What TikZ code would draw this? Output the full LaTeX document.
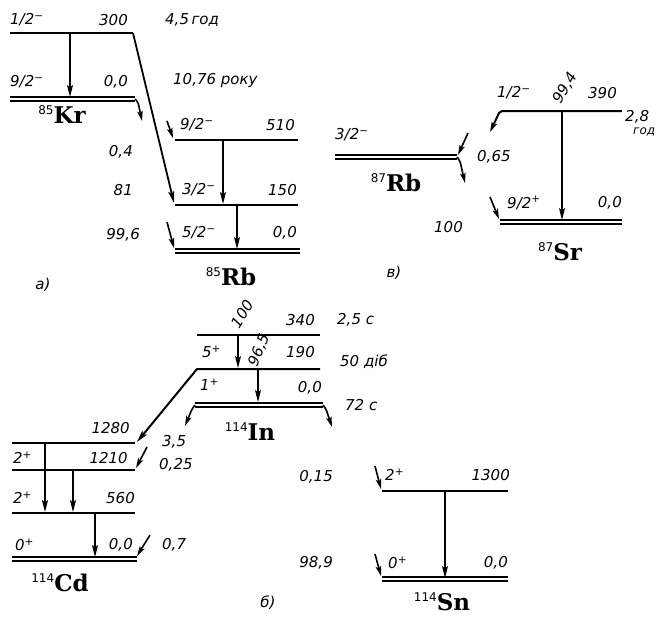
\documentclass[tikz,border=0pt]{standalone}
\usepackage{fontspec}
\setmainfont{DejaVu Sans}
\newfontfamily\elfamily{DejaVu Serif}
\usetikzlibrary{arrows.meta}
\newcommand{\elname}[2]{{\fontsize{12}{12}\selectfont\upshape\raisebox{9pt}{#1}}{\elfamily\bfseries\fontsize{23}{23}\selectfont #2}}
\tikzset{
  lvl/.style={line width=2pt},
  gnd/.style={draw=black,double=white,double distance=2pt,line width=1.8pt},
  gam/.style={line width=1.6pt,-{Stealth[length=12pt,width=6pt,inset=2.5pt]}},
  feed/.style={line width=1.6pt,-{Stealth[length=10pt,width=5.5pt,inset=2pt]},rounded corners=2pt},
  lab/.style={inner sep=0pt,font=\itshape\fontsize{15}{15}\selectfont},
  labw/.style={lab,anchor=west},
  labe/.style={lab,anchor=east},
  small/.style={inner sep=0pt,font=\itshape\fontsize{12}{12}\selectfont},
  elem/.style={inner sep=0pt}
}
\begin{document}
\begin{tikzpicture}[x=1pt,y=-1pt]
\useasboundingbox (0,0) rectangle (668,622);
% ---------------- a) 85Kr -> 85Rb
\coordinate (krTL) at (10,33); \coordinate (krTR) at (133,33);
\coordinate (krGL) at (10,99); \coordinate (krGR) at (135,99);
\coordinate (rbAL) at (175,140); \coordinate (rbAR) at (298,140);
\coordinate (rbBL) at (175,205); \coordinate (rbBR) at (298,205);
\coordinate (rbGL) at (175,251); \coordinate (rbGR) at (300,251);
\draw[lvl] (krTL) -- (krTR);
\draw[gnd] (krGL) -- (krGR);
\draw[gam] (70,33) -- (70,97);
\draw[feed] (krGR) -- (138,102) -- (142,121);
\draw[gam,line width=1.8pt] (krTR) -- (174,203);
\draw[lvl] (rbAL) -- (rbAR);
\draw[lvl] (rbBL) -- (rbBR);
\draw[gnd] (rbGL) -- (rbGR);
\draw[feed] (167,121) -- (173,138);
\draw[gam] (223,140) -- (223,204);
\draw[gam] (237,205) -- (237,249);
\draw[feed] (167,222) -- (174,248);
\node[labw] (t1) at (10,20) {1/2\textsuperscript{−}};
\node[labe] (t2) at (128,20) {300};
\node[labw] (t3) at (165,20) {4,5\,год};
\node[labw] (t4) at (173,80) {10,76 року};
\node[labw] (t5) at (10,82) {9/2\textsuperscript{−}};
\node[labe] (t6) at (128,82) {0,0};
\node[elem] (kr) at (62,115) {\elname{85}{Kr}};
\node[labw] (t7) at (180,125) {9/2\textsuperscript{−}};
\node[labe] (t8) at (295,125) {510};
\node[labe] (t9) at (133,152) {0,4};
\node[labe] (t10) at (133,190) {81};
\node[labw] (t11) at (182,190) {3/2\textsuperscript{−}};
\node[labe] (t12) at (297,190) {150};
\node[labe] (t13) at (140,235) {99,6};
\node[labw] (t14) at (182,233) {5/2\textsuperscript{−}};
\node[labe] (t15) at (297,233) {0,0};
\node[elem] (rb85) at (231,277) {\elname{85}{Rb}};
\node[lab] (pa) at (43,285) {а)};
% ---------------- v) 87Rb -> 87Sr
\coordinate (rb7L) at (335,157); \coordinate (rb7R) at (457,157);
\coordinate (srTL) at (500,111); \coordinate (srTR) at (622,111);
\coordinate (srGL) at (500,222); \coordinate (srGR) at (622,222);
\draw[gnd] (rb7L) -- (rb7R);
\draw[feed] (468,133) -- (458,155);
\draw[feed] (rb7R) -- (460,161) -- (465,183);
\draw[lvl,-{Stealth[length=10pt,width=5.5pt,inset=2pt]},rounded corners=2pt] (srTR) -- (srTL) -- (490,132);
\draw[gam] (562,111) -- (562,220);
\draw[gnd] (srGL) -- (srGR);
\draw[feed] (490,197) -- (499,219);
\node[labw] (s1) at (335,135) {3/2\textsuperscript{−}};
\node[labw] (s2) at (477,157) {0,65};
\node[elem] (rb87) at (396,183) {\elname{87}{Rb}};
\node[labe] (s3) at (463,227) {100};
\node[labw] (s4) at (497,93) {1/2\textsuperscript{−}};
\node[lab,rotate=60] (s5) at (565,88) {99,4};
\node[labe] (s6) at (617,93) {390};
\node[labw] (s7) at (625,117) {2,8};
\node[small,anchor=west] (s8) at (633,132) {год};
\node[labw] (s9) at (507,203) {9/2\textsuperscript{+}};
\node[labe] (s10) at (622,203) {0,0};
\node[elem] (sr87) at (560,252) {\elname{87}{Sr}};
\node[lab] (pv) at (394,273) {в)};
% ---------------- b) 114In
\coordinate (inAL) at (197,335); \coordinate (inAR) at (320,335);
\coordinate (inBL) at (197,369); \coordinate (inBR) at (320,369);
\coordinate (inGL) at (195,405); \coordinate (inGR) at (323,405);
\draw[lvl] (inAL) -- (inAR);
\draw[gam] (238,335) -- (238,368);
\draw[lvl,-{Stealth[length=12pt,width=6pt,inset=2.5pt]}] (inBR) -- (inBL) -- (137,442);
\draw[gam] (258,369) -- (258,402);
\draw[gnd] (inGL) -- (inGR);
\draw[feed] (inGL) -- (192,409) -- (185,426);
\draw[feed] (inGR) -- (326,409) -- (332,427);
\node[lab,rotate=58] (i1) at (242,314) {100};
\node[labe] (i2) at (315,320) {340};
\node[labw] (i3) at (337,320) {2,5 с};
\node[labw] (i4) at (202,352) {5\textsuperscript{+}};
\node[lab,rotate=68] (i5) at (259,350) {96,5};
\node[labe] (i6) at (315,352) {190};
\node[labw] (i7) at (340,362) {50 діб};
\node[labw] (i8) at (200,385) {1\textsuperscript{+}};
\node[labe] (i9) at (322,388) {0,0};
\node[labw] (i10) at (345,405) {72 с};
\node[elem] (in114) at (250,432) {\elname{114}{In}};
% ---------------- 114Cd
\coordinate (cdAL) at (12,443); \coordinate (cdAR) at (135,443);
\coordinate (cdBL) at (12,470); \coordinate (cdBR) at (135,470);
\coordinate (cdCL) at (12,513); \coordinate (cdCR) at (135,513);
\coordinate (cdGL) at (12,559); \coordinate (cdGR) at (137,559);
\draw[lvl] (cdAL) -- (cdAR);
\draw[lvl] (cdBL) -- (cdBR);
\draw[lvl] (cdCL) -- (cdCR);
\draw[gnd] (cdGL) -- (cdGR);
\draw[gam] (45,443) -- (45,512);
\draw[gam] (73,470) -- (73,512);
\draw[gam] (95,513) -- (95,557);
\draw[feed] (147,447) -- (136,468);
\draw[feed] (150,535) -- (137,556);
\node[labe] (c1) at (130,428) {1280};
\node[labw] (c2) at (162,442) {3,5};
\node[labw] (c3) at (13,458) {2\textsuperscript{+}};
\node[labe] (c4) at (128,458) {1210};
\node[labw] (c5) at (159,465) {0,25};
\node[labw] (c6) at (13,498) {2\textsuperscript{+}};
\node[labe] (c7) at (135,498) {560};
\node[labw] (c8) at (15,545) {0\textsuperscript{+}};
\node[labe] (c9) at (133,545) {0,0};
\node[labw] (c10) at (162,545) {0,7};
\node[elem] (cd114) at (60,583) {\elname{114}{Cd}};
\node[lab] (pb) at (268,603) {б)};
% ---------------- 114Sn
\coordinate (snAL) at (382,491); \coordinate (snAR) at (508,491);
\coordinate (snGL) at (382,579); \coordinate (snGR) at (508,579);
\draw[lvl] (snAL) -- (snAR);
\draw[gnd] (snGL) -- (snGR);
\draw[gam] (445,491) -- (445,578);
\draw[feed] (375,466) -- (381,489);
\draw[feed] (375,554) -- (381,576);
\node[labe] (n1) at (333,477) {0,15};
\node[labw] (n2) at (385,475) {2\textsuperscript{+}};
\node[labe] (n3) at (510,475) {1300};
\node[labe] (n4) at (333,563) {98,9};
\node[labw] (n5) at (388,563) {0\textsuperscript{+}};
\node[labe] (n6) at (508,563) {0,0};
\node[elem] (sn114) at (442,602) {\elname{114}{Sn}};
\end{tikzpicture}
\end{document}
